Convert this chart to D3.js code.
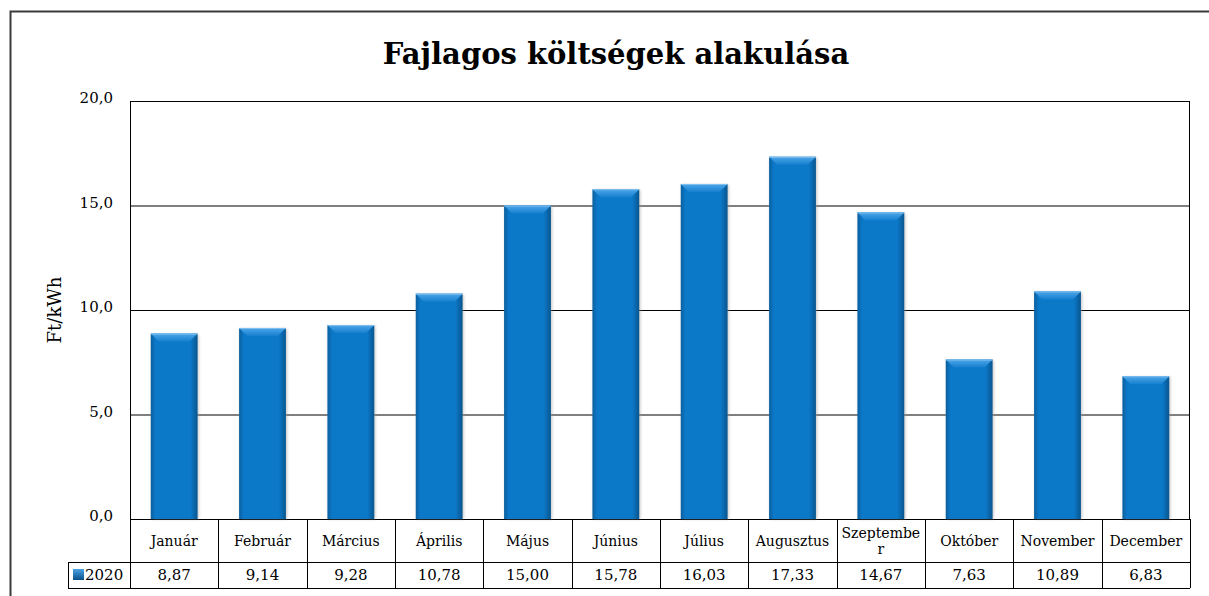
<!DOCTYPE html>
<html>
<head>
<meta charset="utf-8">
<script src="https://cdn.jsdelivr.net/npm/d3@7"></script>
<style>
  body { margin: 0; background: #fff; }
  text { font-family: Georgia, "DejaVu Serif", serif; fill: #000; }
</style>
</head>
<body>
<div id="chart"></div>
<script>
"use strict";

// Data
const months = ["Január", "Február", "Március", "Április", "Május", "Június",
  "Július", "Augusztus", "Szeptember", "Október", "November", "December"];
const values2020 = [8.87, 9.14, 9.28, 10.78, 15.00, 15.78, 16.03, 17.33, 14.67, 7.63, 10.89, 6.83];
const seriesName = "2020";
const yTicks = [0, 5, 10, 15, 20];
const titleText = "Fajlagos költségek alakulása";
const yLabel = "Ft/kWh";

var width = 1209;
var height = 596;

const plot = {left: 130, right: 1190, top: 101, bottom: 519};
const rowHead = 43;   // month names row
const rowVal = 26;    // values row
const keyLeft = 68;

const huLocale = d3.formatLocale({decimal: ",", thousands: " ", grouping: [3], currency: ["", " Ft"]});
const fmtTick = huLocale.format(".1f");
const fmtVal = huLocale.format(".2f");

const x = d3.scaleBand()
  .domain(months)
  .range([plot.left, plot.right])
  .paddingInner(0.47)
  .paddingOuter(0.235);

const y = d3.scaleLinear()
  .domain([0, 20])
  .range([plot.bottom, plot.top]);

const svg = d3.select("#chart")
  .append("svg")
  .attr("width", width)
  .attr("height", height);

const defs = svg.append("defs");

const barGrad = defs.append("linearGradient")
  .attr("id", "barGrad")
  .attr("x1", 0).attr("x2", 1).attr("y1", 0).attr("y2", 0);
barGrad.append("stop").attr("offset", "0%").attr("stop-color", "#0a5f9e");
barGrad.append("stop").attr("offset", "10%").attr("stop-color", "#0c78c8");
barGrad.append("stop").attr("offset", "85%").attr("stop-color", "#0c78c8");
barGrad.append("stop").attr("offset", "100%").attr("stop-color", "#08568f");

const bevelGrad = defs.append("linearGradient")
  .attr("id", "bevelGrad")
  .attr("x1", 0).attr("x2", 0).attr("y1", 0).attr("y2", 1);
bevelGrad.append("stop").attr("offset", "0%").attr("stop-color", "#4fa6e8");
bevelGrad.append("stop").attr("offset", "100%").attr("stop-color", "#1580d0");

const keyGrad = defs.append("linearGradient")
  .attr("id", "keyGrad")
  .attr("x1", 0).attr("x2", 0).attr("y1", 0).attr("y2", 1);
keyGrad.append("stop").attr("offset", "0%").attr("stop-color", "#4aa3e6");
keyGrad.append("stop").attr("offset", "100%").attr("stop-color", "#07508a");

const blur = defs.append("filter")
  .attr("id", "shadow")
  .attr("x", "-20%").attr("y", "-10%").attr("width", "140%").attr("height", "120%");
blur.append("feGaussianBlur").attr("stdDeviation", 1.5);

// outer chart frame (right/bottom edges fall outside the picture)
svg.append("rect")
  .attr("x", 10.5)
  .attr("y", 11.5)
  .attr("width", width + 20)
  .attr("height", height + 20)
  .attr("fill", "none")
  .attr("stroke", "#3a3a3a")
  .attr("stroke-width", 2);

svg.append("text")
  .attr("x", 616)
  .attr("y", 64)
  .attr("text-anchor", "middle")
  .attr("font-size", 29)
  .attr("font-weight", "bold")
  .text(titleText);

// gridlines + tick labels
const yAxis = svg.append("g")
  .attr("transform", `translate(${plot.left},0)`)
  .call(d3.axisLeft(y).tickValues(yTicks).tickSize(-(plot.right - plot.left)).tickFormat(fmtTick));
yAxis.select(".domain").remove();
yAxis.selectAll(".tick line").attr("stroke", "#000").attr("stroke-width", 1);
yAxis.selectAll(".tick text")
  .attr("x", -17)
  .attr("dy", "0.1em")
  .attr("font-size", 15)
  .attr("font-family", null);

svg.append("text")
  .attr("transform", `translate(61,${(plot.top + plot.bottom) / 2}) rotate(-90)`)
  .attr("text-anchor", "middle")
  .attr("font-size", 18)
  .text(yLabel);

// plot frame
svg.append("rect")
  .attr("x", plot.left + 0.5)
  .attr("y", plot.top + 0.5)
  .attr("width", plot.right - plot.left - 1)
  .attr("height", plot.bottom - plot.top)
  .attr("fill", "none")
  .attr("stroke", "#000");

// bars
const bars = svg.append("g")
  .selectAll("g")
  .data(values2020)
  .join("g")
    .attr("transform", (d, i) => `translate(${x(months[i])},0)`);

bars.append("rect")
  .attr("x", 1)
  .attr("y", d => y(d) + 1)
  .attr("width", x.bandwidth())
  .attr("height", d => y(0) - y(d) - 1)
  .attr("fill", "#9a9a9a")
  .attr("opacity", 0.6)
  .attr("filter", "url(#shadow)");

bars.append("rect")
  .attr("y", d => y(d))
  .attr("width", x.bandwidth())
  .attr("height", d => y(0) - y(d))
  .attr("fill", "url(#barGrad)");

// top bevel
bars.append("path")
  .attr("d", d => {
    const w = x.bandwidth(), t = y(d), b = 8;
    return `M0,${t} L${w},${t} L${w - b},${t + b} L${b},${t + b} Z`;
  })
  .attr("fill", "url(#bevelGrad)");
bars.append("line")
  .attr("x1", 0).attr("x2", x.bandwidth())
  .attr("y1", d => y(d) + 0.5).attr("y2", d => y(d) + 0.5)
  .attr("stroke", "#7fc0f0");

// data table
const table = svg.append("g");
const tableBottom = plot.bottom + rowHead + rowVal;

const colEdges = months.map(m => x(m) - x.step() * x.paddingInner() / 2);
colEdges.push(plot.right);

table.selectAll(".vline")
  .data(colEdges)
  .join("line")
    .attr("x1", d => Math.round(d) + 0.5).attr("x2", d => Math.round(d) + 0.5)
    .attr("y1", plot.bottom).attr("y2", tableBottom)
    .attr("stroke", "#000");

table.append("line")
  .attr("x1", keyLeft).attr("x2", plot.right)
  .attr("y1", plot.bottom + rowHead + 0.5).attr("y2", plot.bottom + rowHead + 0.5)
  .attr("stroke", "#000");
table.append("line")
  .attr("x1", keyLeft).attr("x2", plot.right)
  .attr("y1", tableBottom + 0.5).attr("y2", tableBottom + 0.5)
  .attr("stroke", "#000");
table.append("line")
  .attr("x1", keyLeft + 0.5).attr("x2", keyLeft + 0.5)
  .attr("y1", plot.bottom + rowHead).attr("y2", tableBottom)
  .attr("stroke", "#000");

const monthText = table.selectAll(".month")
  .data(months)
  .join("text")
    .attr("class", "month")
    .attr("text-anchor", "middle")
    .attr("font-size", 14)
    .attr("x", d => x(d) + x.bandwidth() / 2);

monthText.each(function(d) {
  const lines = wrapChars(this, d, 82);
  const cy = plot.bottom + rowHead / 2;
  const lh = 16;
  const t = d3.select(this);
  lines.forEach((ln, k) => {
    t.append("tspan")
      .attr("x", x(d) + x.bandwidth() / 2)
      .attr("y", cy + (k - (lines.length - 1) / 2) * lh + 5)
      .text(ln);
  });
});

table.selectAll(".val")
  .data(values2020)
  .join("text")
    .attr("class", "val")
    .attr("text-anchor", "middle")
    .attr("font-size", 15)
    .attr("x", (d, i) => x(months[i]) + x.bandwidth() / 2)
    .attr("y", plot.bottom + rowHead + rowVal / 2 + 5)
    .text(d => fmtVal(d));

// legend key
table.append("rect")
  .attr("x", keyLeft + 5)
  .attr("y", plot.bottom + rowHead + 7)
  .attr("width", 11)
  .attr("height", 11)
  .attr("fill", "url(#keyGrad)");
table.append("text")
  .attr("x", keyLeft + 17)
  .attr("y", plot.bottom + rowHead + rowVal / 2 + 5)
  .attr("font-size", 15)
  .text(seriesName);

// Excel style wrap: break a word by characters when it does not fit
function wrapChars(node, str, maxW) {
  const sel = d3.select(node);
  const probe = sel.append("tspan");
  const lines = [];
  let cur = "";
  for (const ch of str) {
    probe.text(cur + ch);
    if (cur && probe.node().getComputedTextLength() > maxW) {
      lines.push(cur);
      cur = ch;
    } else {
      cur += ch;
    }
  }
  lines.push(cur);
  probe.remove();
  return lines;
}
</script>
</body>
</html>
